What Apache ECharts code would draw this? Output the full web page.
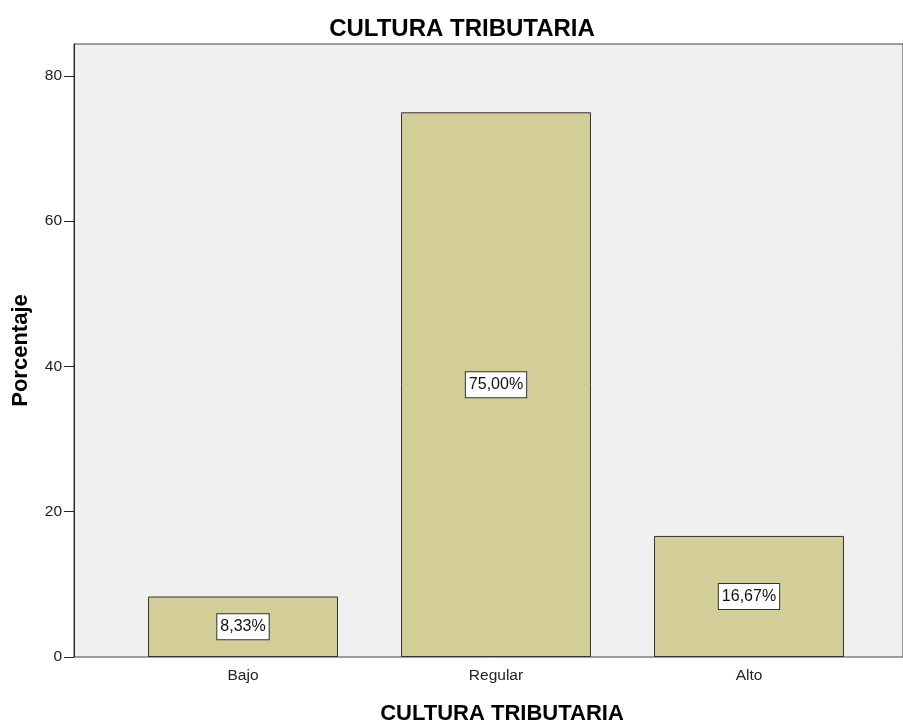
<!DOCTYPE html>
<html>
<head>
<meta charset="utf-8">
<script src="https://cdn.jsdelivr.net/npm/echarts@6/dist/echarts.min.js"></script>
<style>
  html, body { margin: 0; padding: 0; background: #fff; }
  #chart { width: 903px; height: 720px; }
</style>
</head>
<body>
<div id="chart"></div>
<script>
// datos del gráfico
const categories = ['Bajo', 'Regular', 'Alto']
const percentages = [8.33, 75.00, 16.67]
const yTicks = [0, 20, 40, 60, 80]

const chart = echarts.init(document.getElementById('chart'))
const font = 'Liberation Sans, Arial, sans-serif'

const option = {
  animation: false,
  title: [
    {
      text: 'CULTURA TRIBUTARIA',
      left: 457, top: 12, textAlign: 'center',
      textStyle: { fontSize: 24, fontWeight: 'bold', color: '#000', fontFamily: font }
    },
    {
      text: 'CULTURA TRIBUTARIA',
      left: 497, top: 698, textAlign: 'center',
      textStyle: { fontSize: 22, fontWeight: 'bold', color: '#000', fontFamily: font }
    }
  ],
  grid: [
    // fondo gris con marco
    { left: 74, top: 44, right: -5, bottom: 63, show: true, backgroundColor: '#f0f0f0', borderColor: '#444', borderWidth: 1 },
    // zona de las barras
    { left: 116.5, top: 44, width: 759, bottom: 63 }
  ],
  xAxis: [
    { gridIndex: 0, type: 'value', show: false },
    {
      gridIndex: 1, type: 'category', data: categories,
      axisLine: { show: false },
      axisTick: { alignWithLabel: true, length: 10, lineStyle: { color: '#222' } },
      axisLabel: { color: '#222', fontSize: 15.5, fontFamily: font, margin: 11 }
    }
  ],
  yAxis: [
    {
      gridIndex: 0, type: 'value', min: 0, max: 84.4, interval: 20,
      name: 'Porcentaje', nameLocation: 'middle', nameGap: 42, nameRotate: 90,
      nameTextStyle: { fontSize: 22, fontWeight: 'bold', color: '#000', fontFamily: font },
      axisLine: { show: true, lineStyle: { color: '#222' } },
      axisTick: { show: true, length: 10, lineStyle: { color: '#222' }, customValues: yTicks },
      axisLabel: { color: '#222', fontSize: 15.5, fontFamily: font, margin: 12, customValues: yTicks },
      splitLine: { show: false }
    },
    { gridIndex: 1, type: 'value', min: 0, max: 84.4, show: false }
  ],
  series: [
    {
      type: 'bar',
      xAxisIndex: 1, yAxisIndex: 1,
      data: percentages,
      barWidth: 190,
      itemStyle: { color: '#d3ce97', borderColor: '#333', borderWidth: 1 },
      label: {
        show: true, position: 'inside',
        formatter: p => p.value.toFixed(2).replace('.', ',') + '%',
        color: '#111', fontSize: 16, lineHeight: 16, fontFamily: font,
        backgroundColor: '#fff', borderColor: '#333', borderWidth: 1,
        padding: [5, 3, 4, 3]
      }
    }
  ]
}

chart.setOption(option)
window.addEventListener('resize', () => chart.resize())
</script>
</body>
</html>
